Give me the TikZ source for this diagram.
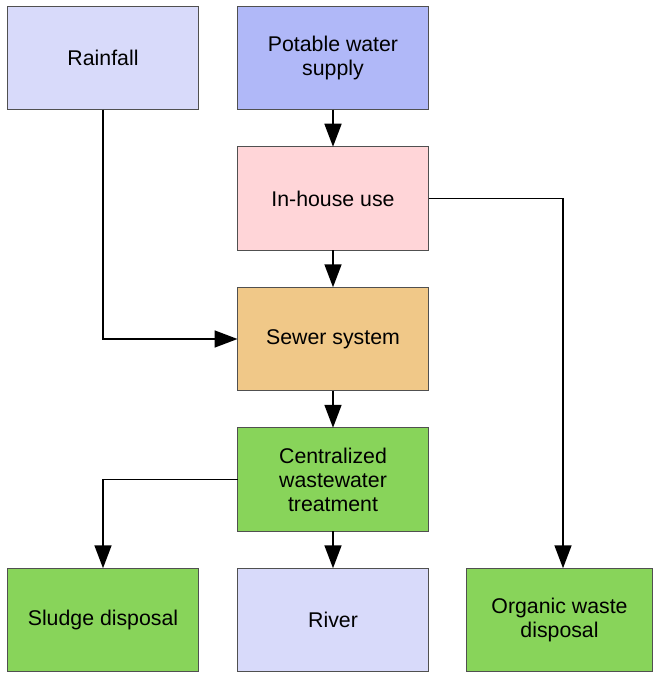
\documentclass[tikz,border=0pt]{standalone}
\usepackage{fontspec}
\setmainfont{Liberation Sans}
\usepackage{xcolor}
\usepackage{tikz}
\usetikzlibrary{arrows.meta, positioning}

\definecolor{lavender}{HTML}{D8DAFA}
\definecolor{bluish}{HTML}{B0B8F8}
\definecolor{pinkish}{HTML}{FFD5D8}
\definecolor{sandy}{HTML}{F0C888}
\definecolor{leafgreen}{HTML}{88D45A}
\definecolor{edgegray}{HTML}{505050}

\begin{document}
\begin{tikzpicture}[
    x=1pt, y=1pt,
    flowbox/.style={rectangle, draw=edgegray, line width=1.2pt, outer sep=0pt, minimum width=191pt, minimum height=103.5pt, align=center, font=\fontsize{21.3}{24}\selectfont, inner sep=0pt},
    arrow/.style={-{Triangle[length=23pt, width=17pt]}, line width=1.7pt, black}
]
\useasboundingbox (0,0) rectangle (653,-676);

% Top row
\node[flowbox, fill=lavender] (rain) at (103,-58) {Rainfall};
\node[flowbox, fill=bluish] (potable) at (333,-58) {Potable water\\supply};

% Middle column
\node[flowbox, fill=pinkish, below=37pt of potable] (inhouse) {In-house use};
\node[flowbox, fill=sandy, below=37pt of inhouse] (sewer) {Sewer system};
\node[flowbox, fill=leafgreen, below=37pt of sewer] (central) {Centralized\\wastewater\\treatment};

% Bottom row
\node[flowbox, fill=lavender, below=37pt of central] (river) {River};
\node[flowbox, fill=leafgreen, left=39pt of river] (sludge) {Sludge disposal};
\node[flowbox, fill=leafgreen, minimum width=186pt, right=38pt of river] (organic) {Organic waste\\disposal};

% Arrows
\draw[arrow] (potable.south) -- (inhouse.north);
\draw[arrow] (inhouse.south) -- (sewer.north);
\draw[arrow] (sewer.south) -- (central.north);
\draw[arrow] (central.south) -- (river.north);
\draw[arrow] (rain.south) |- (sewer.west);
\draw[arrow] (central.west) -| (sludge.north);
\draw[arrow] (inhouse.east) -| ([xshift=3.5pt]organic.north);

\end{tikzpicture}
\end{document}
